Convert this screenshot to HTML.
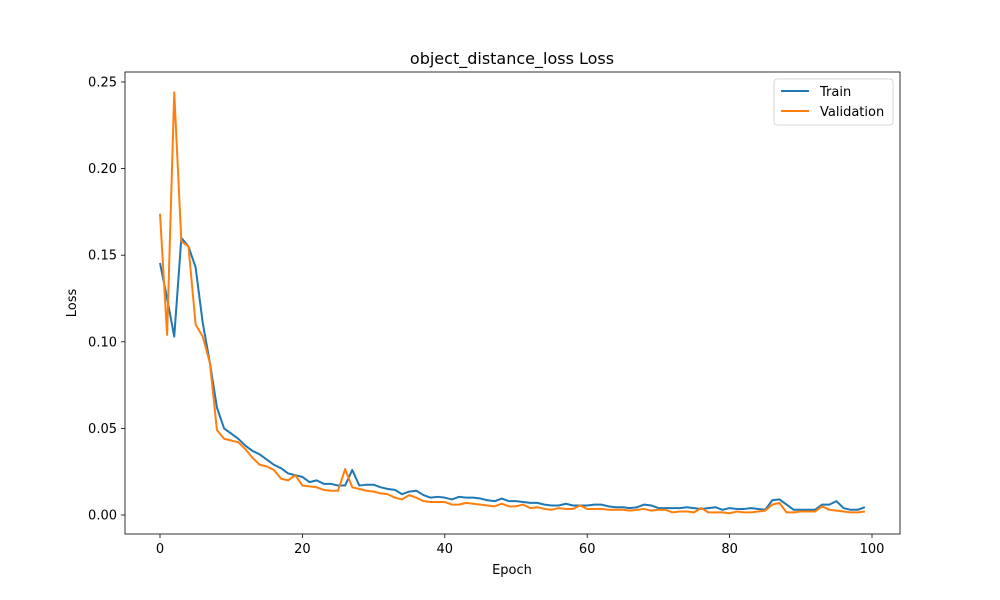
<!DOCTYPE html>
<html><head><meta charset="utf-8"><style>
html,body{margin:0;padding:0;background:#fff;}
svg{display:block;font-family:"DejaVu Sans","Liberation Sans",sans-serif;}
</style></head><body>
<svg id="chart" width="1000" height="600">
<rect width="1000" height="600" fill="#fff"/>
<text x="512" y="64" text-anchor="middle" font-size="16">object_distance_loss Loss</text>
<g id="grid"></g>
<g id="lines"></g>
<rect x="125" y="72" width="775" height="462" fill="none" stroke="#000" stroke-width="0.8"/>
<text x="512" y="574" text-anchor="middle" font-size="13">Epoch</text>
<text transform="translate(76,303) rotate(-90)" text-anchor="middle" font-size="13">Loss</text>
<g>
<rect x="774" y="79" width="119" height="46" rx="3" fill="#fff" stroke="#ccc" stroke-width="0.8"/>
<line x1="781" y1="91" x2="809" y2="91" stroke="#1f77b4" stroke-width="2"/>
<text x="820" y="96" font-size="13">Train</text>
<line x1="781" y1="111" x2="809" y2="111" stroke="#ff7f0e" stroke-width="2"/>
<text x="820" y="116" font-size="13">Validation</text>
</g>
</svg>
<script>
const xTicks=[0,20,40,60,80,100];
const yTicks=[0,0.05,0.10,0.15,0.20,0.25];
const yTickLabels=["0.00","0.05","0.10","0.15","0.20","0.25"];
const train=[0.1455,0.125,0.103,0.160,0.155,0.143,0.111,0.088,0.062,0.050,0.047,0.044,0.040,0.037,0.035,0.032,0.029,0.027,0.024,0.023,0.022,0.019,0.020,0.018,0.018,0.017,0.017,0.026,0.017,
0.0175,0.0175,0.016,0.015,0.0145,0.012,0.0135,0.014,0.0115,0.010,0.0105,0.010,0.009,0.0105,0.010,0.010,0.0095,0.0085,0.008,0.0095,0.008,0.008,0.0075,0.007,0.007,0.006,0.0055,0.0055,0.0065,0.0055,0.0055,0.0055,0.006,0.006,0.005,0.0045,0.0045,0.004,0.0045,0.006,0.0055,0.004,0.004,0.004,0.004,0.0045,0.004,0.0035,0.004,0.0045,0.003,0.004,0.0035,0.0035,0.004,0.0035,0.003,0.0085,0.009,0.006,0.003,0.003,0.003,0.003,0.006,0.006,0.008,0.004,0.003,0.003,0.0045];
const validation=[0.174,0.104,0.244,0.158,0.155,0.110,0.103,0.088,0.049,0.044,0.043,0.042,0.038,0.033,0.029,0.028,0.026,0.021,0.020,0.023,0.017,0.0165,0.016,0.0145,0.014,0.014,0.0265,0.016,0.015,
0.014,0.0135,0.0125,0.012,0.010,0.009,0.0115,0.010,0.008,0.0075,0.0075,0.0075,0.006,0.006,0.007,0.0065,0.006,0.0055,0.005,0.0065,0.005,0.005,0.006,0.004,0.0045,0.0035,0.003,0.004,0.0035,0.0035,0.0055,0.0035,0.0035,0.0035,0.003,0.003,0.003,0.0025,0.003,0.0035,0.0025,0.003,0.003,0.0015,0.002,0.002,0.0015,0.004,0.0015,0.0015,0.0015,0.001,0.002,0.0015,0.0015,0.002,0.0025,0.006,0.007,0.0015,0.0015,0.002,0.002,0.002,0.005,0.003,0.0025,0.002,0.0015,0.0015,0.002];
const NS="http://www.w3.org/2000/svg";
const X=v=>160+v*7.12;
const Y=v=>515-v*1732;
const g=document.getElementById('grid');
function mk(tag,attrs,parent){const e=document.createElementNS(NS,tag);for(const k in attrs)e.setAttribute(k,attrs[k]);parent.appendChild(e);return e;}
xTicks.forEach(t=>{
  const l=mk('line',{x1:X(t),x2:X(t),y1:534,y2:538,stroke:'#000','stroke-width':0.8},g);
  
  
  const tx=mk('text',{x:X(t),y:553,'text-anchor':'middle','font-size':13},g);
  tx.textContent=t;
  
  
});
yTicks.forEach((t,i)=>{
  const l=mk('line',{x1:121,x2:125,y1:Y(t),y2:Y(t),stroke:'#000','stroke-width':0.8},g);
  
  
  const tx=mk('text',{x:117,y:Y(t)+4.5,'text-anchor':'end','font-size':13},g);
  tx.textContent=yTickLabels[i];
  
  
});
const lg=document.getElementById('lines');
function series(arr,color,name){
  const p=mk('polyline',{points:arr.map((v,i)=>X(i)+','+Y(v)).join(' '),fill:'none',stroke:color,'stroke-width':2,'stroke-linejoin':'round'},lg);
  
  
}
series(train,'#1f77b4','train-line');
series(validation,'#ff7f0e','validation-line');
</script>
</body></html>
